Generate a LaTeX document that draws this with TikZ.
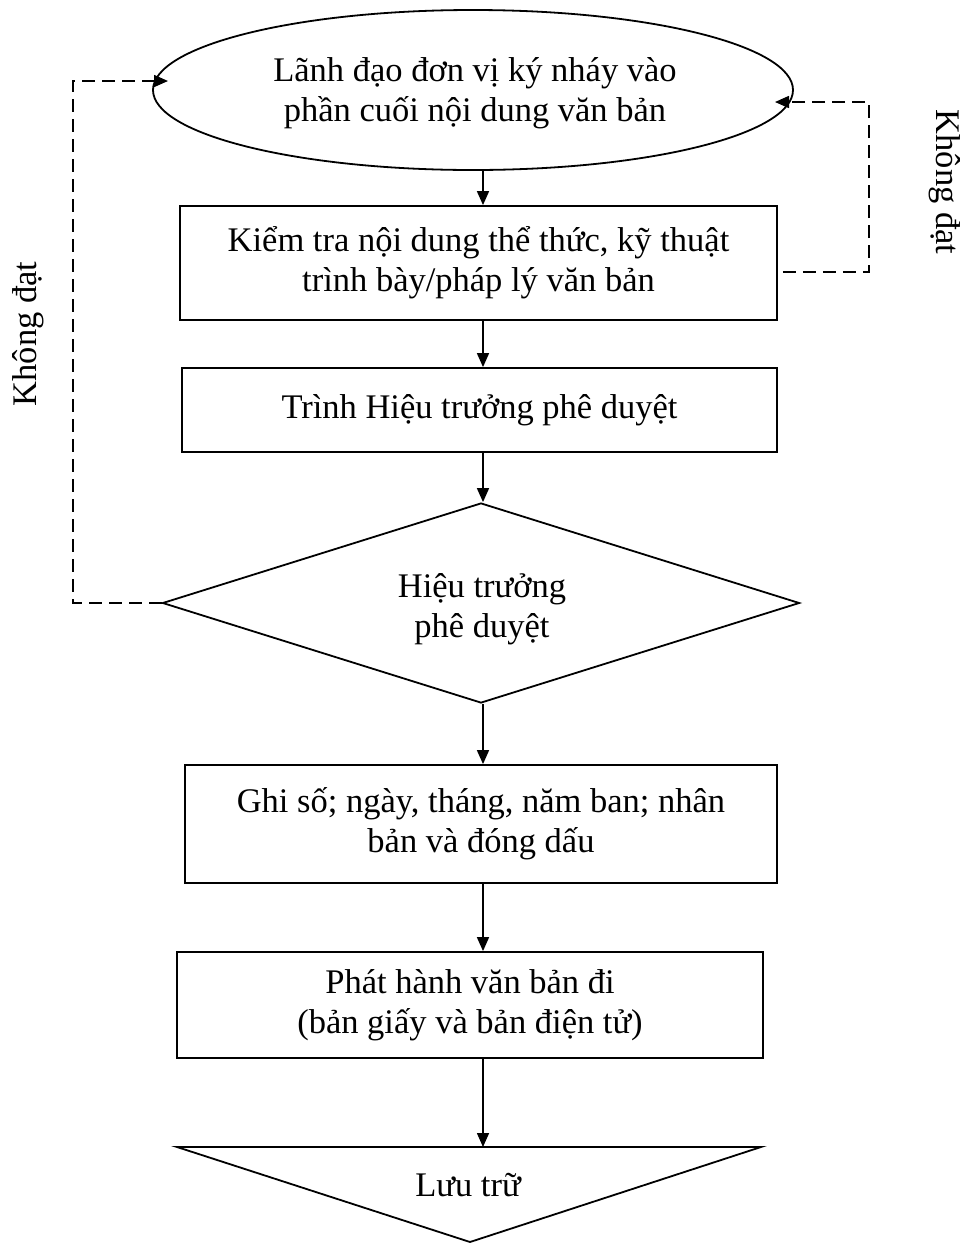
\documentclass[tikz,border=0pt]{standalone}
\usepackage{fontspec}
\setmainfont{Liberation Serif}
\usetikzlibrary{shapes.geometric,arrows.meta}
\begin{document}
\begin{tikzpicture}[x=1pt,y=-1pt,
  every node/.style={font=\fontsize{34.5}{40}\selectfont, align=center, inner sep=0pt},
  outline/.style={draw, line width=1.8pt},
  procbox/.style={outline, rectangle},
  flow/.style={line width=1.6pt, -{Triangle[length=14pt,width=12pt]}},
  back/.style={line width=1.6pt, dash pattern=on 13pt off 7pt, -{Triangle[length=14pt,width=12pt]}},
]
\useasboundingbox (0,0) rectangle (966,1243);

% main column of arrows
\coordinate (col) at (483,0);

% start: ellipse
\node[outline, ellipse, minimum width=640pt, minimum height=160pt] (e) at (473,90) {};
\node (etext) at (475,93)
  {Lãnh đạo đơn vị ký nháy vào\\phần cuối nội dung văn bản};

% process boxes
\node[procbox, minimum width=597pt, minimum height=114pt] (b1) at (478.5,263)
  {Kiểm tra nội dung thể thức, kỹ thuật\\trình bày/pháp lý văn bản};
\node[procbox, minimum width=595pt, minimum height=84pt] (b2) at (479.5,410)
  {Trình Hiệu trưởng phê duyệt};

% decision
\node[outline, diamond, shape aspect=3.18, minimum width=637pt, minimum height=200pt] (d) at (481,603) {};
\node (dtext) at (482,609) {Hiệu trưởng\\phê duyệt};

\node[procbox, minimum width=592pt, minimum height=118pt] (b3) at (481,824)
  {Ghi số; ngày, tháng, năm ban; nhân\\bản và đóng dấu};
\node[procbox, minimum width=586pt, minimum height=106pt] (b4) at (470,1005)
  {Phát hành văn bản đi\\(bản giấy và bản điện tử)};

% storage: inverted triangle
\coordinate (tl) at (177,1147);
\coordinate (tr) at (761,1147);
\coordinate (ta) at (470,1242);
\draw[line width=1.8pt, line join=miter] (tl) -- (tr) -- (ta) -- cycle;
\node[anchor=base] (store) at (468,1196) {Lưu trữ};

% main flow
\draw[flow] (e.south -| col) -- (b1.north -| col);
\draw[flow] (b1.south -| col) -- (b2.north -| col);
\draw[flow] (b2.south -| col) -- (d.north -| col);
\draw[flow] (d.south -| col) -- (b3.north -| col);
\draw[flow] (b3.south -| col) -- (b4.north -| col);
\draw[flow] (b4.south -| col) -- (tl -| col);

% rejection loops
\coordinate (lturn) at (73,0);
\coordinate (lin) at (168,81);
\draw[back] (d.west) -- (d.west -| lturn) |- (lin);

\coordinate (rturn) at (869,102);
\coordinate (rin) at (775,102);
\draw[back] ([shift={(5,9)}]b1.east) -| (rturn) -- (rin);

% loop labels
\node[rotate=90] (nl) at (28,334) {Không đạt};
\node[rotate=-90] (nr) at (945,182) {Không đạt};
\end{tikzpicture}
\end{document}
